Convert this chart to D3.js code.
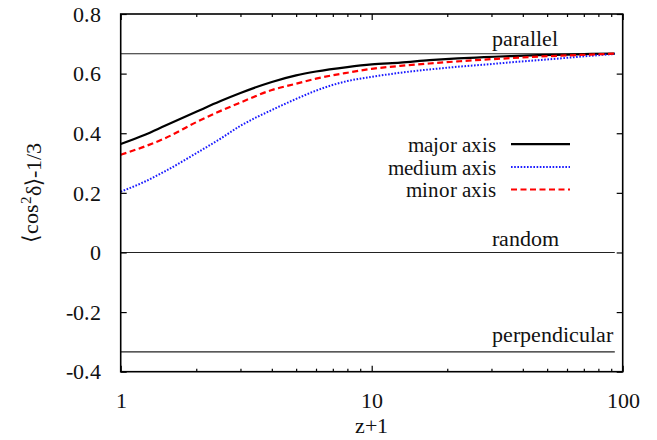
<!DOCTYPE html>
<html>
<head>
<meta charset="utf-8">
<script src="https://cdn.jsdelivr.net/npm/d3@7"></script>
<style>
  @font-face {
    font-family: "PlotSerif";
    src: local("Liberation Serif"), local("LiberationSerif"), local("LiberationSerif-Regular"),
         local("Times New Roman"), local("DejaVu Serif"), local("DejaVuSerif");
  }
  html, body { margin: 0; padding: 0; background: #fff; }
  svg, svg text { font-family: "PlotSerif", "Liberation Serif", "DejaVu Serif", serif !important; }
</style>
</head>
<body>
<svg id="chart" width="657" height="440"></svg>
<script>
// redshift grid (z+1)
const zPlusOne = [1, 1.25, 1.5, 2, 2.5, 3, 4, 5, 6, 8, 10, 13, 17, 22, 28, 36, 46, 60, 75, 93];
// <cos^2 delta> - 1/3 for each principal axis
const majorAxis  = [0.364, 0.395, 0.425, 0.472, 0.508, 0.535, 0.572, 0.594, 0.607, 0.622, 0.631, 0.637, 0.645, 0.651, 0.655, 0.659, 0.662, 0.664, 0.666, 0.667];
const mediumAxis = [0.204, 0.238, 0.272, 0.333, 0.382, 0.425, 0.478, 0.515, 0.543, 0.575, 0.589, 0.603, 0.614, 0.623, 0.630, 0.638, 0.645, 0.653, 0.660, 0.666];
const minorAxis  = [0.328, 0.356, 0.383, 0.437, 0.475, 0.503, 0.545, 0.566, 0.583, 0.603, 0.616, 0.626, 0.634, 0.641, 0.647, 0.652, 0.657, 0.661, 0.664, 0.667];
// reference alignment levels
const refNames  = ["parallel", "random", "perpendicular"];
const refValues = [2 / 3, 0, -1 / 3];
// axis ticks
const xMajorTicks = [1, 10, 100];
const xMinorTicks = [2, 3, 4, 5, 6, 7, 8, 9, 20, 30, 40, 50, 60, 70, 80, 90];
const yTicks = [-0.4, -0.2, 0, 0.2, 0.4, 0.6, 0.8];

const series = [
  { name: "major axis",  values: majorAxis,  color: "#000000", dash: null,      width: 2.2 },
  { name: "medium axis", values: mediumAxis, color: "#1a1aff", dash: "1.6,1.6", width: 2 },
  { name: "minor axis",  values: minorAxis,  color: "#ff0000", dash: "6,3.5",   width: 2.2 }
];

const svg = d3.select("#chart");
const L = 120.7, R = 622.7, T = 14, B = 371.7;

const x = d3.scaleLog().domain([1, 100]).range([L, R]);
const y = d3.scaleLinear().domain([-0.4, 0.8]).range([B, T]);

const fontSize = "22px";
const serif = "PlotSerif, Liberation Serif, DejaVu Serif, serif";

// reference horizontal lines
const refG = svg.append("g");
refValues.forEach(v => {
  refG.append("line")
    .attr("x1", x(zPlusOne[0])).attr("x2", x(zPlusOne[zPlusOne.length - 1]))
    .attr("y1", y(v)).attr("y2", y(v))
    .attr("stroke", "#222").attr("stroke-width", 1.1);
});
const refLabelY = [46, 246, 342];
refNames.forEach((n, i) => {
  svg.append("text")
    .attr("x", 491.5).attr("y", refLabelY[i])
    .attr("font-size", fontSize).attr("fill", "#111")
    .text(n);
});

// curves
const line = d3.line()
  .x((d, i) => x(zPlusOne[i]))
  .y(d => y(d))
  .curve(d3.curveMonotoneX);

series.forEach(s => {
  svg.append("path")
    .datum(s.values)
    .attr("d", line)
    .attr("fill", "none")
    .attr("stroke", s.color)
    .attr("stroke-width", s.width)
    .attr("stroke-dasharray", s.dash);
});

// axes with inward ticks, mirrored on top and right
function styleAxis(g) {
  g.attr("font-family", serif);
  g.select(".domain").remove();
  g.selectAll("line").attr("stroke", "#000").attr("stroke-width", 1.2);
}
svg.append("g").attr("transform", `translate(0,${B})`)
  .call(d3.axisBottom(x).tickValues(xMajorTicks).tickSizeInner(-6).tickSizeOuter(0).tickFormat(d3.format("d")).tickPadding(14))
  .call(styleAxis)
  .call(g => g.selectAll("text").attr("font-size", fontSize).attr("fill", "#111").attr("dy", "1em"));
svg.append("g").attr("transform", `translate(0,${B})`)
  .call(d3.axisBottom(x).tickValues(xMinorTicks).tickSizeInner(-3).tickSizeOuter(0).tickFormat(""))
  .call(styleAxis);
svg.append("g").attr("transform", `translate(0,${T})`)
  .call(d3.axisTop(x).tickValues(xMajorTicks).tickSizeInner(-6).tickSizeOuter(0).tickFormat(""))
  .call(styleAxis);
svg.append("g").attr("transform", `translate(0,${T})`)
  .call(d3.axisTop(x).tickValues(xMinorTicks).tickSizeInner(-3).tickSizeOuter(0).tickFormat(""))
  .call(styleAxis);
svg.append("g").attr("transform", `translate(${L},0)`)
  .call(d3.axisLeft(y).tickValues(yTicks).tickSizeInner(-6).tickSizeOuter(0).tickPadding(20)
    .tickFormat(d => d === 0 ? "0" : d3.format(".1f")(d).replace("\u2212", "-")))
  .call(styleAxis)
  .call(g => g.selectAll("text").attr("font-size", fontSize).attr("fill", "#111").attr("dy", "0.33em"));
svg.append("g").attr("transform", `translate(${R},0)`)
  .call(d3.axisRight(y).tickValues(yTicks).tickSizeInner(-6).tickSizeOuter(0).tickFormat(""))
  .call(styleAxis);

// frame
svg.append("rect")
  .attr("x", L).attr("y", T).attr("width", R - L).attr("height", B - T)
  .attr("fill", "none").attr("stroke", "#000").attr("stroke-width", 1.6);

// legend
const legendY = [151.7, 174.5, 197];
series.forEach((s, i) => {
  svg.append("text")
    .attr("x", 496).attr("y", legendY[i])
    .attr("text-anchor", "end")
    .attr("font-size", "21px").attr("fill", "#111")
    .text(s.name);
  svg.append("line")
    .attr("x1", 511).attr("x2", 570)
    .attr("y1", legendY[i] - 7.5).attr("y2", legendY[i] - 7.5)
    .attr("stroke", s.color).attr("stroke-width", s.width)
    .attr("stroke-dasharray", s.dash);
});

// axis titles
svg.append("text")
  .attr("x", (L + R) / 2).attr("y", 433)
  .attr("text-anchor", "middle")
  .attr("font-size", fontSize).attr("fill", "#111")
  .text("z+1");

const yTitle = svg.append("text")
  .attr("transform", `translate(38,${(T + B) / 2}) rotate(-90)`)
  .attr("text-anchor", "middle")
  .attr("font-size", fontSize).attr("fill", "#111");
yTitle.append("tspan").text("\u27E8cos");
yTitle.append("tspan").attr("dy", "-0.45em").attr("font-size", "15px").text("2");
yTitle.append("tspan").attr("dy", "0.45em").text("\u03B4\u27E9-1/3");
</script>
</body>
</html>
